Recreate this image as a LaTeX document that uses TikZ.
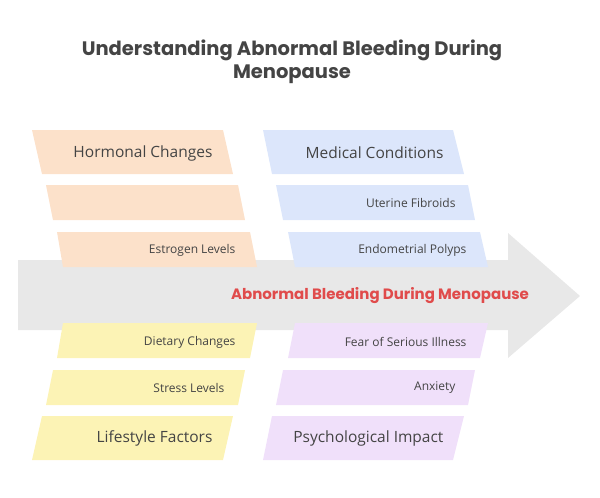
\documentclass[tikz,border=0pt]{standalone}
\usepackage{fontspec}
\setmainfont{Open Sans}
\newfontfamily\titlefont{Poppins}
\definecolor{org}{HTML}{FCE1CA}
\definecolor{blu}{HTML}{DCE6FB}
\definecolor{yel}{HTML}{FCF3B5}
\definecolor{pur}{HTML}{F0E0FA}
\definecolor{arr}{HTML}{E8E8E8}
\definecolor{txt}{HTML}{444444}
\definecolor{red1}{HTML}{E04B4B}
\newcommand{\pgram}[7]{\fill[#1] (#2,-#4) -- (#3,-#4) -- (#6,-#7) -- (#5,-#7) -- cycle;}
\begin{document}
\begin{tikzpicture}[x=1pt,y=1pt,
  big/.style={text=txt,font=\fontsize{15.5}{18}\selectfont,anchor=east},
  small/.style={text=txt,font=\fontsize{12}{14}\selectfont,anchor=east}]
\useasboundingbox (0,0) rectangle (600,-498);
\fill[arr] (18,-260) -- (508,-260) -- (508,-233) -- (580,-296) -- (508,-358) -- (508,-330) -- (18,-330) -- cycle;
% top left
\pgram{org}{32}{223}{130}{42}{233}{174}
\pgram{org}{46}{238}{185}{53}{245}{220}
\pgram{org}{57}{250}{232}{63}{257}{267}
% top right
\pgram{blu}{263}{453}{130}{272}{464}{174}
\pgram{blu}{276}{468}{185}{283}{475}{220}
\pgram{blu}{288}{480}{232}{295}{488}{267}
% bottom left
\pgram{yel}{63}{257}{323}{57}{250}{358}
\pgram{yel}{53}{245}{370}{46}{238}{405}
\pgram{yel}{42}{233}{416}{32}{223}{460}
% bottom right
\pgram{pur}{295}{488}{323}{288}{480}{358}
\pgram{pur}{283}{475}{370}{276}{468}{405}
\pgram{pur}{272}{464}{416}{263}{453}{460}
\node[big] (hc) at (216,-153) {Hormonal Changes};
\node[small] (el) at (239,-250) {Estrogen Levels};
\node[big] (mc) at (447,-153) {Medical Conditions};
\node[small] (uf) at (459,-203) {Uterine Fibroids};
\node[small] (ep) at (470,-250) {Endometrial Polyps};
\node[small] (dc) at (239,-342) {Dietary Changes};
\node[small] (sl) at (228,-388) {Stress Levels};
\node[big] (lf) at (216,-438) {Lifestyle Factors};
\node[small] (fi) at (470,-342) {Fear of Serious Illness};
\node[small] (ax) at (459,-388) {Anxiety};
\node[big] (pi) at (447,-438) {Psychological Impact};
\node[text=red1,font=\titlefont\bfseries\fontsize{15}{17}\selectfont] (ab) at (380,-296) {Abnormal Bleeding During Menopause};
\node[text=txt,font=\titlefont\bfseries\fontsize{19.5}{23}\selectfont,align=center] (t) at (292,-62) {Understanding Abnormal Bleeding During\\Menopause};
\end{tikzpicture}
\end{document}
